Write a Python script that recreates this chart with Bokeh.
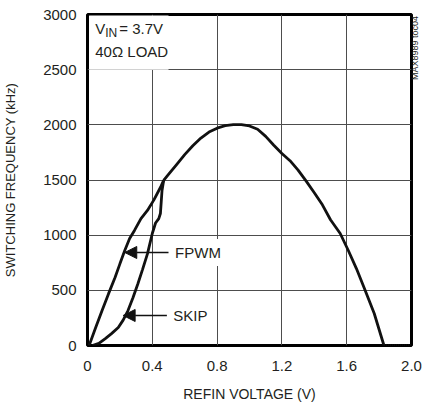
import math
from bokeh.plotting import figure
from bokeh.models import (FixedTicker, Label, Arrow, NormalHead, BoxAnnotation, Range1d, LinearAxis)
from bokeh.embed import file_html
from bokeh.resources import INLINE

FONT = "Liberation Sans"

# FPWM branch (lower-left, upper curve)
fpwm_v = [0.01, 0.05, 0.09, 0.13, 0.17, 0.20, 0.23, 0.26, 0.29, 0.33, 0.37, 0.41, 0.45, 0.47]
fpwm_f = [0, 160, 317, 470, 617, 740, 861, 970, 1043, 1150, 1224, 1320, 1432, 1496]

# SKIP branch (lower-left, lower curve)
skip_v = [0.03, 0.07, 0.11, 0.15, 0.19, 0.22, 0.25, 0.28, 0.31, 0.34, 0.37, 0.40, 0.42, 0.44, 0.45, 0.455, 0.46, 0.47]
skip_f = [0, 20, 63, 110, 163, 230, 317, 430, 555, 690, 830, 1015, 1110, 1150, 1196, 1300, 1405, 1496]

# common part (both modes)
common_v = [0.47, 0.50, 0.55, 0.60, 0.65, 0.70, 0.75, 0.80, 0.85, 0.90, 0.95, 1.00, 1.05, 1.10,
            1.15, 1.20, 1.25, 1.30, 1.35, 1.40, 1.45, 1.50, 1.56, 1.61, 1.66, 1.71, 1.77, 1.83]
common_f = [1496, 1550, 1640, 1730, 1810, 1880, 1935, 1970, 1992, 2002, 2002, 1990, 1960, 1895,
            1815, 1740, 1675, 1590, 1490, 1385, 1275, 1140, 1015, 861, 697, 515, 290, 0]

# zero tail beyond cutoff (dotted)
tail_v = [1.83, 2.0]
tail_f = [0, 0]

x_ticks = [0, 0.4, 0.8, 1.2, 1.6, 2.0]
x_tick_labels = ["0", "0.4", "0.8", "1.2", "1.6", "2.0"]
y_ticks = [0, 500, 1000, 1500, 2000, 2500, 3000]

p = figure(width=427, height=407, x_range=Range1d(0, 2), y_range=Range1d(0, 3000),
           output_backend="svg", toolbar_location=None,
           min_border_left=80, min_border_top=14, min_border_right=15, min_border_bottom=62)

p.outline_line_color = "black"
p.outline_line_width = 3
p.outline_line_alpha = 1

p.xaxis.ticker = FixedTicker(ticks=x_ticks)
p.xaxis.major_label_overrides = dict(zip(x_ticks, x_tick_labels))
p.yaxis.ticker = FixedTicker(ticks=y_ticks)
p.xgrid.ticker = FixedTicker(ticks=x_ticks)
p.ygrid.ticker = FixedTicker(ticks=y_ticks)
p.grid.grid_line_color = "#4d4d4d"
p.grid.grid_line_width = 1

for ax in p.axis:
    ax.axis_line_color = None
    ax.major_tick_line_color = None
    ax.minor_tick_line_color = None
    ax.major_label_text_font = FONT
    ax.major_label_text_font_size = "15px"
    ax.major_label_text_color = "#231f20"
    ax.axis_label_text_font = FONT
    ax.axis_label_text_font_size = "14px"
    ax.axis_label_text_font_style = "normal"
    ax.axis_label_text_color = "#231f20"

p.xaxis.major_label_standoff = 9
p.yaxis.major_label_standoff = 5
p.xaxis.axis_label = "REFIN VOLTAGE (V)"
p.yaxis.axis_label = "SWITCHING FREQUENCY (kHz)"
p.yaxis.axis_label_text_font_size = "13px"
p.xaxis.axis_label_standoff = 12
p.yaxis.axis_label_standoff = 22

# figure code at the right edge, as the label of a bare right axis
# (leading no-break spaces push the text up to the top of the frame)
code_axis = LinearAxis(ticker=FixedTicker(ticks=[]),
                       axis_label="\u00a0" * 40 + "MAX8989 toc04", axis_label_standoff=3,
                       axis_label_orientation=math.pi / 2,
                       axis_line_color=None, major_tick_line_color=None,
                       minor_tick_line_color=None, major_tick_out=0, major_tick_in=0,
                       axis_label_text_font=FONT, axis_label_text_font_size="9px",
                       axis_label_text_font_style="normal", axis_label_text_color="#231f20")
p.add_layout(code_axis, "right")

# white box behind the condition text
p.add_layout(BoxAnnotation(left=0.01, right=0.5, bottom=2500, top=2990, fill_color="white",
                           fill_alpha=1, line_color=None, level="underlay"))

p.line(fpwm_v, fpwm_f, line_width=2.8, color="#111111")
p.line(skip_v, skip_f, line_width=2.8, color="#111111")
p.line(common_v, common_f, line_width=2.8, color="#111111")
p.line(tail_v, tail_f, line_width=2, color="#111111", line_dash="1 1")

txt = dict(text_font=FONT, text_color="#231f20")
p.add_layout(Label(x=0.048, y=2792, text="V", text_font_size="15px", **txt))
p.add_layout(Label(x=0.048, y=2792, x_offset=10, y_offset=-3, text="IN", text_font_size="12px", **txt))
p.add_layout(Label(x=0.048, y=2792, x_offset=24, text="= 3.7V", text_font_size="15px", **txt))
p.add_layout(Label(x=0.048, y=2584, text="40\u03a9 LOAD", text_font_size="15px", **txt))

# mode labels with arrows
p.add_layout(Arrow(end=NormalHead(size=12, fill_color="#111111", line_color="#111111"),
                   x_start=0.50, y_start=843, x_end=0.23, y_end=843,
                   line_width=1.5, line_color="#111111"))
p.add_layout(Label(x=0.51, y=843, text="FPWM", text_baseline="middle", text_font_size="15px",
                   background_fill_color="white", padding=5, **txt))
p.add_layout(Arrow(end=NormalHead(size=12, fill_color="#111111", line_color="#111111"),
                   x_start=0.49, y_start=272, x_end=0.22, y_end=272,
                   line_width=1.5, line_color="#111111"))
p.add_layout(Label(x=0.505, y=272, text="SKIP", text_baseline="middle", text_font_size="15px",
                   background_fill_color="white", padding=4, **txt))

open("out.html", "w").write(file_html(p, INLINE))
